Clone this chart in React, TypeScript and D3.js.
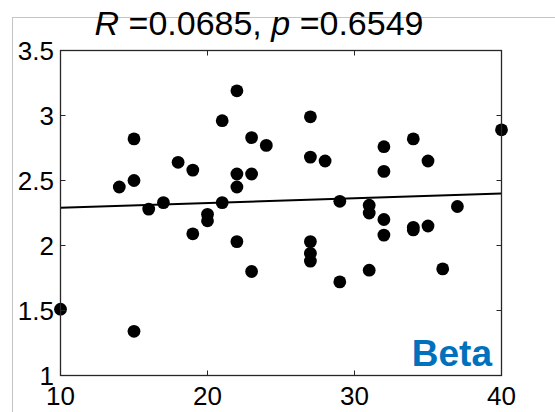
import React, { useEffect, useRef } from "react";
import * as d3 from "d3";

const xValues = [
  10, 14, 15, 15, 15, 16, 17, 18, 19, 19, 20, 20, 21, 21, 22, 22, 22, 22, 23, 23, 23, 24,
  27, 27, 27, 27, 27, 28, 29, 29, 31, 31, 31, 32, 32, 32, 32, 34, 34, 34, 35, 35, 36, 37, 40,
];
const yValues = [
  1.51, 2.45, 2.82, 2.5, 1.34, 2.28, 2.33, 2.64, 2.58, 2.09, 2.24, 2.19, 2.96, 2.33, 3.19, 2.55,
  2.45, 2.03, 2.83, 2.55, 1.8, 2.77, 2.99, 2.68, 2.03, 1.94, 1.88, 2.65, 2.34, 1.72, 2.31, 2.25,
  1.81, 2.76, 2.57, 2.2, 2.08, 2.82, 2.14, 2.12, 2.65, 2.15, 1.82, 2.3, 2.89,
];
const fitX = [10, 40];
const fitY = [2.29, 2.4];
const xTicks = [10, 20, 30, 40];
const yTicks = [1, 1.5, 2, 2.5, 3, 3.5];

export default function App() {
  const ref = useRef<SVGSVGElement>(null);

  useEffect(() => {
    const svg = d3.select(ref.current);
    svg.selectAll("*").remove();

    const left = 60.5, right = 501.5, top = 50.5, bottom = 375.5;
    const font = "'Liberation Sans', Arial, sans-serif";

    const x = d3.scaleLinear().domain([10, 40]).range([left, right]);
    const y = d3.scaleLinear().domain([1, 3.5]).range([bottom, top]);

    // light figure frame
    svg.append("rect")
      .attr("x", 12.5).attr("y", 17.5)
      .attr("width", 700).attr("height", 600)
      .attr("fill", "none").attr("stroke", "#c4c4c4");

    // title
    const title = svg.append("text")
      .attr("x", 259).attr("y", 35)
      .attr("text-anchor", "middle")
      .attr("font-family", font).attr("font-size", 34)
      .attr("fill", "#000");
    title.append("tspan").attr("font-style", "italic").text("R");
    title.append("tspan").text(" =0.0685, ");
    title.append("tspan").attr("font-style", "italic").text("p");
    title.append("tspan").text(" =0.6549");

    // points
    svg.append("g").selectAll("circle")
      .data(xValues.map((v, i) => [v, yValues[i]]))
      .join("circle")
      .attr("cx", d => x(d[0]))
      .attr("cy", d => y(d[1]))
      .attr("r", 6.4)
      .attr("fill", "#000");

    // regression line
    const line = d3.line<number>().x(d => x(fitX[d])).y(d => y(fitY[d]));
    svg.append("path")
      .attr("d", line([0, 1]))
      .attr("fill", "none").attr("stroke", "#000").attr("stroke-width", 2);

    // box + ticks
    const axisColor = "#262626";
    svg.append("rect")
      .attr("x", left).attr("y", top)
      .attr("width", right - left).attr("height", bottom - top)
      .attr("fill", "none").attr("stroke", axisColor).attr("stroke-width", 1.3);

    const tl = 5;
    const ticks = svg.append("g").attr("stroke", axisColor);
    xTicks.forEach(t => {
      ticks.append("line").attr("x1", x(t)).attr("x2", x(t)).attr("y1", bottom).attr("y2", bottom - tl);
      ticks.append("line").attr("x1", x(t)).attr("x2", x(t)).attr("y1", top).attr("y2", top + tl);
    });
    yTicks.forEach(t => {
      ticks.append("line").attr("x1", left).attr("x2", left + tl).attr("y1", y(t)).attr("y2", y(t));
      ticks.append("line").attr("x1", right).attr("x2", right - tl).attr("y1", y(t)).attr("y2", y(t));
    });

    // tick labels
    svg.append("g").selectAll("text")
      .data(xTicks)
      .join("text")
      .attr("x", d => x(d)).attr("y", 405)
      .attr("text-anchor", "middle")
      .attr("font-family", font).attr("font-size", 26)
      .attr("fill", "#000")
      .text(d => d3.format("")(d));

    svg.append("g").selectAll("text")
      .data(yTicks)
      .join("text")
      .attr("x", 54).attr("y", d => y(d))
      .attr("dy", "0.36em")
      .attr("text-anchor", "end")
      .attr("font-family", font).attr("font-size", 26)
      .attr("fill", "#000")
      .text(d => d3.format("")(d));

    // panel label
    svg.append("text")
      .attr("x", 492).attr("y", 366)
      .attr("text-anchor", "end")
      .attr("font-family", font).attr("font-size", 37).attr("font-weight", "bold")
      .attr("fill", "#0072BD")
      .text("Beta");
  }, []);

  return (
    <svg
      ref={ref}
      width={555}
      height={412}
      style={{ position: "absolute", left: 0, top: 0, background: "#fff" }}
    />
  );
}
